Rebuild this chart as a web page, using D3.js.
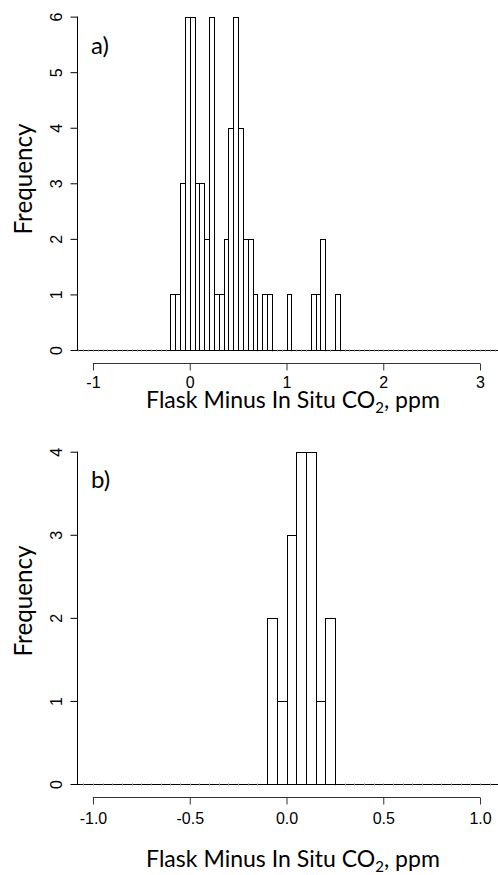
<!DOCTYPE html>
<html>
<head>
<meta charset="utf-8">
<script src="https://cdn.jsdelivr.net/npm/d3@7"></script>
<style>
  html, body { margin: 0; padding: 0; background: #fff; }
  svg { display: block; }
</style>
</head>
<body>
<svg id="chart" width="498" height="875"></svg>
<script>
// ---------- DATA ----------
const binWidth = 0.05;
// Panel a: counts of consecutive 0.05-wide bins, first bin starting at -0.20
const firstBinA = -0.20;
const countsA = [1,1,3,6,6,3,3,2,6,1,1,2,4,6,4,2,2,1,0,1,1,0,0,0,1,0,0,0,0,1,1,2,0,0,1];
const emptyRangeA = [-1.2, 3.3];          // extent covered by (zero-count) bins
const xTicksA = [-1, 0, 1, 2, 3];
const yTicksA = [0, 1, 2, 3, 4, 5, 6];

// Panel b
const firstBinB = -0.10;
const countsB = [2,1,3,4,4,1,2];
const emptyRangeB = [-1.1, 1.15];
const xTicksB = [-1.0, -0.5, 0.0, 0.5, 1.0];
const yTicksB = [0, 1, 2, 3, 4];

const panelLabels = ["a)", "b)"];
const xTitle = "Flask Minus In Situ CO";
const yTitle = "Frequency";

// ---------- DRAW ----------
const svg = d3.select("#chart");
const tickFont = "'Liberation Sans', Arial, sans-serif";
const labelFont = "Lato, 'Open Sans', sans-serif";
const hy = s => s.replace("\u2212", "-");

function fitWidth(sel, target) {
  const w = sel.node().getBBox().width;
  const fs = parseFloat(sel.attr("font-size"));
  sel.attr("font-size", fs * target / w);
}

function panel(cfg) {
  const g = svg.append("g");
  const x = d3.scaleLinear().domain(cfg.xDomain).range([77.5, 495.5]);
  const y = d3.scaleLinear().domain(cfg.yDomain).range([cfg.bottom, cfg.top]);

  const clipId = "clip" + cfg.id;
  svg.append("clipPath").attr("id", clipId)
    .append("rect").attr("x", 77).attr("y", 0).attr("width", 421).attr("height", 875);

  const nBins = Math.round((cfg.emptyRange[1] - cfg.emptyRange[0]) / binWidth);
  const bins = d3.range(nBins).map(i => {
    const x0 = +(cfg.emptyRange[0] + i * binWidth).toFixed(4);
    const idx = Math.round((x0 - cfg.firstBin) / binWidth);
    const c = (idx >= 0 && idx < cfg.counts.length) ? cfg.counts[idx] : 0;
    return {x0, x1: x0 + binWidth, c};
  });

  const y0 = Math.round(y(0));
  const hg = g.append("g").attr("clip-path", `url(#${clipId})`);
  hg.append("line")
    .attr("x1", x(cfg.emptyRange[0])).attr("x2", x(cfg.emptyRange[1]))
    .attr("y1", y0 + 0.5).attr("y2", y0 + 0.5)
    .attr("stroke", "#000").attr("stroke-width", 1);
  hg.selectAll("line.mark").data(bins.filter(b => b.c === 0)).join("line")
    .attr("class", "mark")
    .attr("x1", d => Math.round(x(d.x0)) + 0.5).attr("x2", d => Math.round(x(d.x0)) + 0.5)
    .attr("y1", y0 - 0.5).attr("y2", y0 + 1.5)
    .attr("stroke", "#888").attr("stroke-width", 1);
  hg.selectAll("rect.bar").data(bins.filter(b => b.c > 0)).join("rect")
    .attr("class", "bar")
    .attr("x", d => Math.round(x(d.x0)) + 0.5)
    .attr("width", d => Math.round(x(d.x1)) - Math.round(x(d.x0)))
    .attr("y", d => Math.round(y(d.c)) + 0.5)
    .attr("height", d => y0 - Math.round(y(d.c)))
    .attr("fill", "#fff").attr("stroke", "#000").attr("stroke-width", 1);

  // x axis
  const xa = g.append("g")
    .attr("transform", `translate(0,${Math.round(cfg.bottom) + 0.5})`)
    .call(d3.axisBottom(x).tickValues(cfg.xTicks).tickSize(7).tickSizeOuter(0)
      .tickFormat(d => hy(cfg.xFormat(d))));
  xa.select(".domain").attr("d", `M${x(cfg.xTicks[0])},0H${x(cfg.xTicks[cfg.xTicks.length - 1])}`)
    .attr("stroke", "#333");
  xa.selectAll(".tick line").attr("stroke", "#333");
  xa.selectAll(".tick text").attr("font-family", tickFont).attr("font-size", 16)
    .attr("fill", "#000").attr("dy", null).attr("y", cfg.xLabelY - Math.round(cfg.bottom) - 0.5);

  // y axis
  const ya = g.append("g")
    .attr("transform", `translate(77.5,0)`)
    .call(d3.axisLeft(y).tickValues(cfg.yTicks).tickSize(7).tickSizeOuter(0)
      .tickFormat(d3.format("d")));
  ya.select(".domain").attr("d", `M0,${y(cfg.yTicks[0])}V${y(cfg.yTicks[cfg.yTicks.length - 1])}`)
    .attr("stroke", "#000");
  ya.selectAll(".tick line").attr("stroke", "#000");
  ya.selectAll(".tick text")
    .attr("font-family", tickFont).attr("font-size", 16).attr("fill", "#000")
    .attr("x", null).attr("dy", null)
    .attr("text-anchor", "middle")
    .attr("transform", "translate(-16,0) rotate(-90)");

  // y title
  const yt = g.append("text")
    .attr("transform", `translate(32,${cfg.yTitleY}) rotate(-90)`)
    .attr("text-anchor", "middle")
    .attr("font-family", labelFont).attr("font-size", 20)
    .text(yTitle);
  fitWidth(yt, 112);

  // x title
  const t = g.append("text")
    .attr("x", 293).attr("y", cfg.xTitleY)
    .attr("text-anchor", "middle")
    .attr("font-family", labelFont).attr("font-size", 20);
  t.append("tspan").text(xTitle);
  t.append("tspan").attr("font-size", "0.65em").attr("dy", 5).text("2");
  t.append("tspan").attr("dy", -5).text(", ppm");
  fitWidth(t, 294);

  // panel label
  g.append("text")
    .attr("x", 91).attr("y", cfg.labelY)
    .attr("font-family", labelFont).attr("font-size", 24)
    .text(cfg.label);
}

panel({
  id: "a", xDomain: [-1.16, 3.16], yDomain: [-0.24, 6.24], top: 3.3, bottom: 363.3,
  firstBin: firstBinA, counts: countsA, emptyRange: emptyRangeA,
  xTicks: xTicksA, yTicks: yTicksA, xFormat: d3.format("d"),
  xLabelY: 388, xTitleY: 408, yTitleY: 179, labelY: 54, label: panelLabels[0]
});

panel({
  id: "b", xDomain: [-1.08, 1.08], yDomain: [-0.16, 4.16], top: 438.4, bottom: 797.3,
  firstBin: firstBinB, counts: countsB, emptyRange: emptyRangeB,
  xTicks: xTicksB, yTicks: yTicksB, xFormat: d3.format(".1f"),
  xLabelY: 824, xTitleY: 867, yTitleY: 601, labelY: 488, label: panelLabels[1]
});
</script>
</body>
</html>
